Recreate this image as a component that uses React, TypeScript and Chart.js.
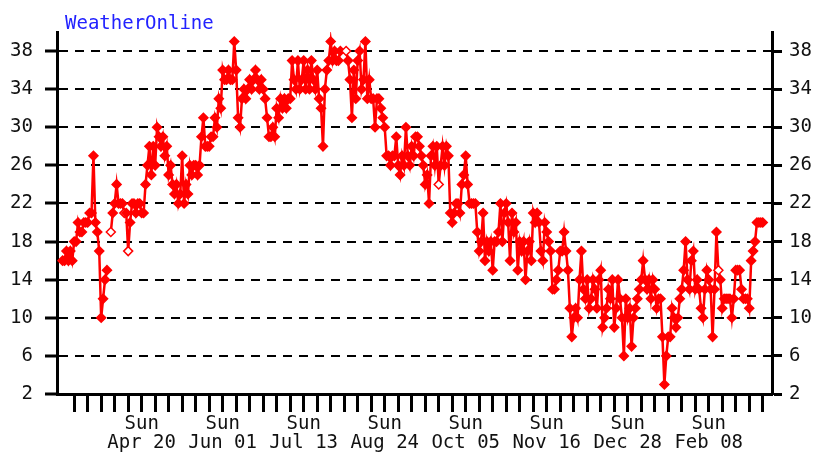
import React, { useEffect, useRef } from "react";
import { Chart, registerables } from "chart.js";
Chart.register(...registerables);

// Daily temperature (°C), first value is 6 days before the first Sunday tick (Mar 16)
const temps: (number | null)[] = [
  16, 16, 17, 16, 17, 16, 18, 18, 20, 19,
  19, 20, 20, 20, 21, 21, 27, 20, 19, 17,
  10, 12, 14, 15, null, 19, 21, 22, 24, 22,
  22, 22, 21, 21, 17, 20, 22, 22, 21, 22,
  22, 21, 21, 24, 26, 28, 25, 28, 26, 30,
  29, 28, 29, 27, 28, 25, 26, 24, 23, 24,
  22, 23, 27, 22, 24, 23, 26, 25, 26, 26,
  25, 26, 29, 31, 28, 28, 28, 29, 29, 31,
  30, 33, 32, 36, 35, 35, 36, 35, 35, 39,
  36, 31, 30, 33, 34, 33, 34, 35, 34, 35,
  36, 35, 34, 35, 34, 33, 31, 29, 29, 30,
  29, 32, 31, 33, 32, 33, 32, 33, 33, 37,
  35, 34, 37, 34, 35, 37, 34, 36, 34, 37,
  35, 34, 36, 33, 32, 28, 34, 36, 37, 39,
  37, 38, 37, 37, 38, null, null, 38, 37, 35,
  31, 36, 33, 37, 38, 34, 35, 39, 33, 35,
  33, 33, 30, 33, 33, 32, 31, 30, 27, 27,
  26, 27, 27, 29, 26, 25, 27, 26, 30, 27,
  26, 28, 27, 29, 29, 28, 27, 26, 24, 25,
  22, 27, 28, 26, 28, 24, 26, 28, 26, 28,
  27, 21, 20, 21, 22, 22, 21, 24, 25, 27,
  24, 22, 22, 22, 22, 19, 17, 18, 21, 16,
  18, 17, 18, 15, 18, 18, 19, 22, 18, 21,
  22, 20, 16, 21, 19, 20, 15, 18, 17, 18,
  14, 17, 18, 16, 21, 20, 21, 20, 17, 16,
  20, 19, 18, 17, 13, 13, 14, 15, 17, 17,
  19, 17, 15, 11, 8, 10, 11, 10, 14, 17,
  13, 12, 14, 11, 12, 14, 13, 11, 14, 15,
  9, 10, 11, 13, 12, 14, 9, 11, 14, 12,
  10, 6, 12, 10, 11, 7, 10, 11, 12, 13,
  14, 16, 14, 13, 14, 12, 14, 13, 11, 12,
  12, 8, 3, 6, 8, 8, 11, 10, 9, 10,
  12, 13, 15, 18, 14, 13, 16, 17, 13, 14,
  13, 11, 10, 13, 15, 14, 13, 8, 13, 19,
  15, 14, 11, 12, 12, 12, 12, 10, 12, 15,
  15, 15, 13, 12, 12, 12, 11, 16, 17, 18,
  20, 20, 20, 20,
];
const firstDataDay = -6;
const openPoints = [25, 32, 34, 147, 195, 340];
const yTicks = [2, 6, 10, 14, 18, 22, 26, 30, 34, 38];
const weekCount = 52;
const sundayLabels = ["Apr 20", "Jun 01", "Jul 13", "Aug 24", "Oct 05", "Nov 16", "Dec 28", "Feb 08"];
const firstLabelWeek = 5;
const labelEveryWeeks = 6;
const titleText = "WeatherOnline";

const FONT = '"DejaVu Sans Mono", monospace';

export default function App() {
  const ref = useRef<HTMLCanvasElement | null>(null);
  useEffect(() => {
    document.body.style.margin = "0";
    const canvas = ref.current;
    if (!canvas) return;
    const points = temps.map((v, i) => ({ x: i + firstDataDay, y: v }));
    const titlePlugin = {
      id: "woTitle",
      afterDraw(chart: any) {
        const ctx = chart.ctx;
        ctx.save();
        ctx.font = `19px ${FONT}`;
        ctx.fillStyle = "#2222ff";
        ctx.textBaseline = "alphabetic";
        ctx.textAlign = "left";
        ctx.fillText(titleText, 65, 29);
        ctx.restore();
      },
    };
    const chart = new Chart(canvas, {
      type: "line",
      data: {
        datasets: [
          {
            data: points as any,
            borderColor: "#ff0000",
            borderWidth: 2.5,
            pointStyle: "rectRot",
            pointRadius: 4.5,
            pointBorderWidth: 1.5,
            pointBorderColor: "#ff0000",
            pointBackgroundColor: temps.map((_, i) => (openPoints.includes(i) ? "#ffffff" : "#ff0000")),
            spanGaps: false,
            tension: 0,
            yAxisID: "y",
          },
        ],
      },
      options: {
        responsive: false,
        animation: false,
        events: [],
        layout: { padding: { top: 32, left: 0, right: 0, bottom: 0 } },
        plugins: { legend: { display: false }, tooltip: { enabled: false }, title: { display: false } },
        scales: {
          x: {
            type: "linear",
            min: -8.9,
            max: 361.8,
            afterBuildTicks: (scale: any) => {
              scale.ticks = Array.from({ length: weekCount }, (_, w) => ({ value: w * 7 }));
            },
            afterFit: (scale: any) => {
              scale.height = 59;
            },
            ticks: {
              autoSkip: false,
              maxRotation: 0,
              minRotation: 0,
              padding: 3,
              color: "#111",
              font: { family: FONT, size: 19, lineHeight: 1.0 },
              callback: (value: any) => {
                const w = Math.round(Number(value) / 7);
                const k = (w - firstLabelWeek) / labelEveryWeeks;
                if (Number.isInteger(k) && k >= 0 && k < sundayLabels.length) return ["Sun", sundayLabels[k]];
                return "";
              },
            },
            grid: {
              drawOnChartArea: false,
              drawTicks: true,
              tickLength: 18,
              tickWidth: 3,
              tickColor: "#000",
              color: "#000",
            },
            border: { display: true, width: 3, color: "#000" },
          },
          y: {
            type: "linear",
            position: "left",
            min: 2,
            max: 40,
            afterBuildTicks: (scale: any) => {
              scale.ticks = yTicks.map((v) => ({ value: v }));
            },
            afterFit: (scale: any) => {
              scale.width = 57;
            },
            ticks: { padding: 12, color: "#111", font: { family: FONT, size: 19 } },
            grid: {
              drawOnChartArea: true,
              drawTicks: true,
              tickLength: 12,
              tickWidth: 3,
              tickColor: "#000",
              color: "#000",
              lineWidth: 2,
            },
            border: { display: true, width: 3, color: "#000", dash: [9, 7] },
          },
          y2: {
            type: "linear",
            position: "right",
            min: 2,
            max: 40,
            afterBuildTicks: (scale: any) => {
              scale.ticks = yTicks.map((v) => ({ value: v }));
            },
            afterFit: (scale: any) => {
              scale.width = 41;
            },
            ticks: { padding: 7, color: "#111", font: { family: FONT, size: 19 } },
            grid: {
              drawOnChartArea: false,
              drawTicks: true,
              tickLength: 10,
              tickWidth: 3,
              tickColor: "#000",
              color: "#000",
            },
            border: { display: true, width: 3, color: "#000" },
          },
        },
      },
      plugins: [titlePlugin],
    } as any);
    return () => chart.destroy();
  }, []);
  return (
    <div style={{ width: 813, height: 453, background: "#fff" }}>
      <canvas ref={ref} width={813} height={453} style={{ display: "block" }} />
    </div>
  );
}
